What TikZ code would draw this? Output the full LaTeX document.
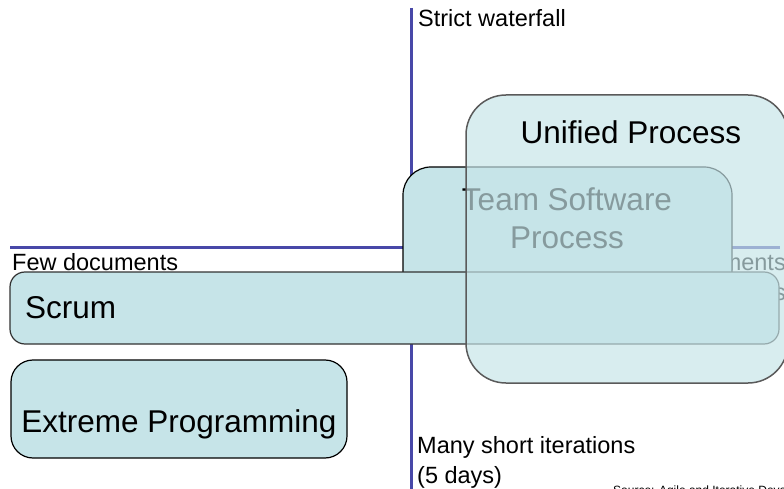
\documentclass[tikz,border=0pt]{standalone}
\usepackage{fontspec}
\setmainfont{Liberation Sans}
\definecolor{axisblue}{RGB}{72,72,168}
\definecolor{boxfill}{RGB}{198,228,232}
\definecolor{upedge}{RGB}{90,90,90}
\begin{document}
\begin{tikzpicture}[x=1pt,y=-1pt,
  axisline/.style={draw=axisblue, line width=3pt},
  lbl/.style={inner sep=0pt, font=\fontsize{23.5}{29.5}\selectfont},
  big/.style={inner sep=0pt, font=\fontsize{31.5}{38}\selectfont},
  boxshape/.style={rectangle, fill=boxfill, draw=black, line width=1.2pt, inner sep=0pt}]
\useasboundingbox (0,0) rectangle (784,489);
% axes
\coordinate (vtop) at (411,8);
\coordinate (vbot) at (411,489);
\coordinate (hleft) at (10,247);
\coordinate (hright) at (780,247);
\draw[axisline] (vtop) -- (vbot);
\draw[axisline] (hleft) -- (hright);
% axis labels
\node[lbl, anchor=base west] (waterfall) at (418,27) {Strict waterfall};
\node[lbl, anchor=base west] (fewdocs) at (12,270) {Few documents};
\node[lbl, anchor=base east, align=right] (manydocs) at (786,300) {Many documents\\formal steps};
\node[lbl, anchor=base west, align=left] (iters) at (417,483) {Many short iterations\\(5 days)};
\node[inner sep=0pt, anchor=base west, font=\fontsize{12}{14}\selectfont] (source) at (613,494) {Source: Agile and Iterative Development};
% Extreme Programming
\node[boxshape, rounded corners=22pt, minimum width=336pt, minimum height=98pt] (xp) at (179,409) {};
\node[big, anchor=base] (xptext) at (179,432) {Extreme Programming};
% Team Software Process
\node[boxshape, rounded corners=28pt, minimum width=329pt, minimum height=163pt] (tsp) at (567.5,248.5) {};
\node[big, anchor=base, align=center] (tsptext) at (567,248) {Team Software\\Process};
% Scrum
\node[boxshape, draw={rgb,255:red,50;green,50;blue,50}, rounded corners=15pt, minimum width=769pt, minimum height=72pt] (scrum) at (394.5,308) {};
\node[big, anchor=base west] (scrumtext) at (25,318) {Scrum};
% Unified Process (translucent)
\node[rectangle, fill=boxfill, fill opacity=0.68, draw=upedge, line width=1.5pt, rounded corners=40pt, minimum width=322pt, minimum height=288pt, inner sep=0pt] (up) at (627,239) {};
\node[big, anchor=base] (uptext) at (631,144) {Unified Process};
\end{tikzpicture}
\end{document}
